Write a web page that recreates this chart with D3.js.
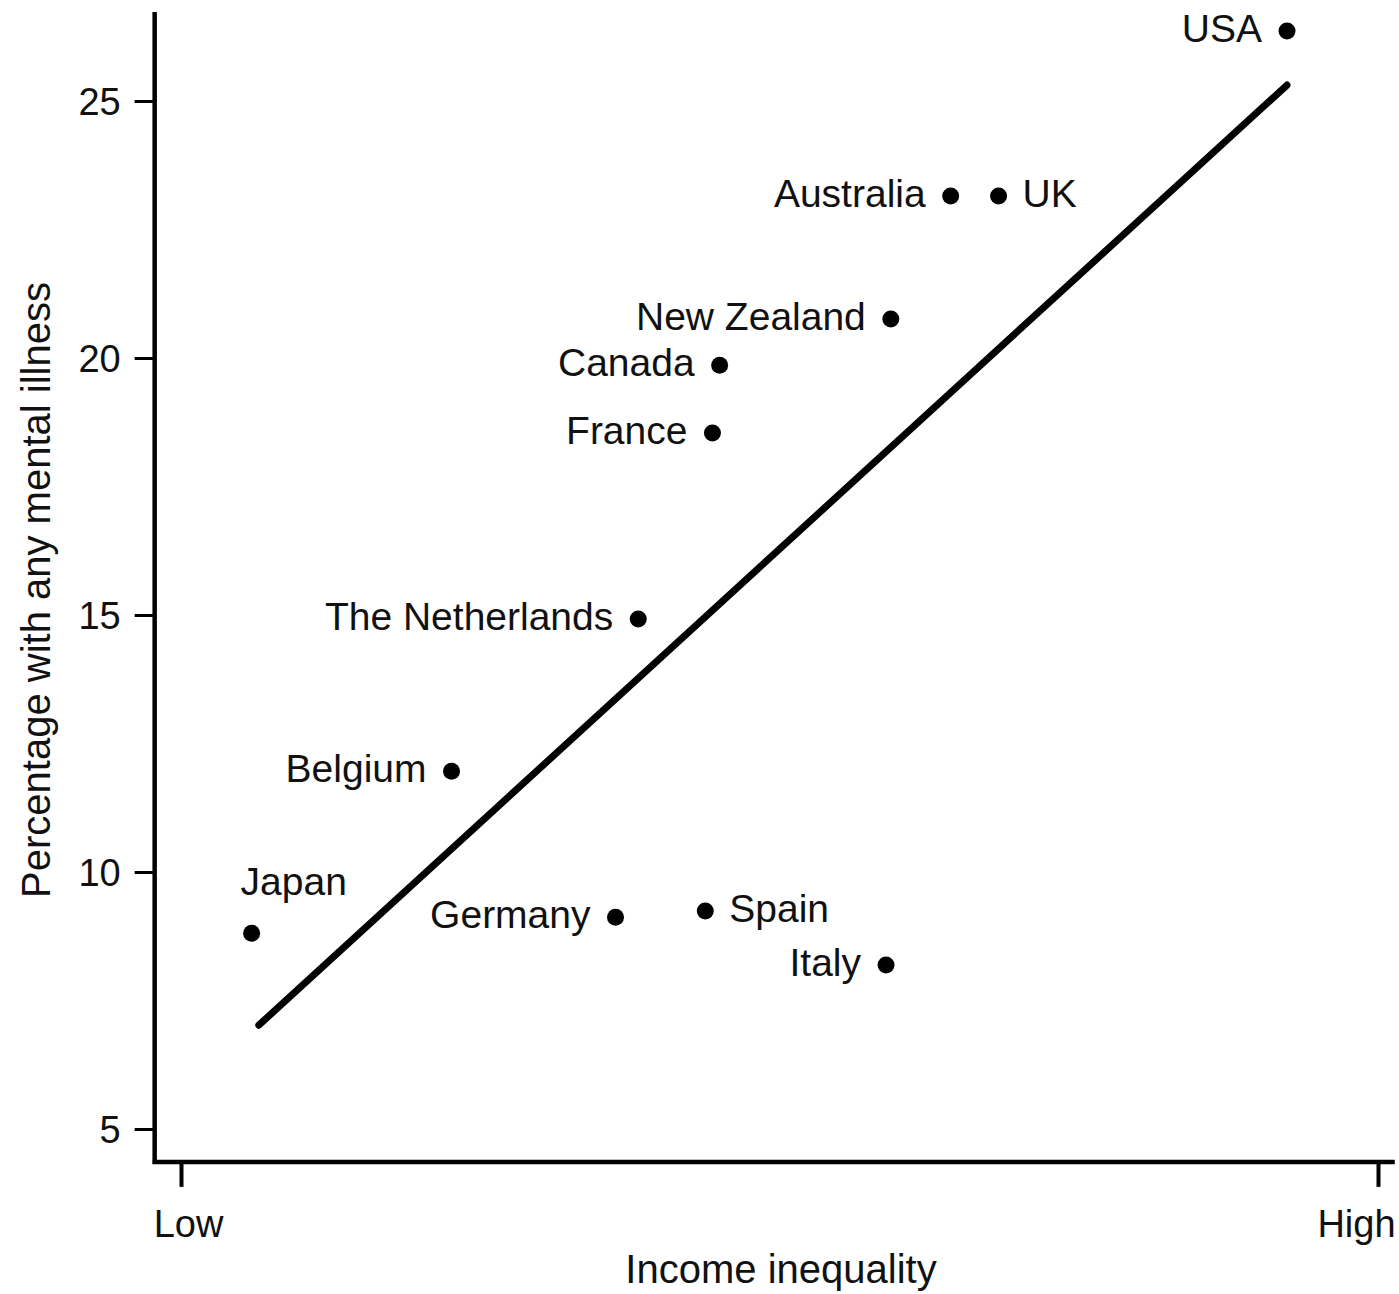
<!DOCTYPE html>
<meta charset="utf-8">
<script src="https://d3js.org/d3.v7.min.js"></script>
<style>
  body { margin: 0; background: #fff; }
  text { font-family: "Liberation Sans", Arial, sans-serif; fill: #111; }
</style>
<div id="chart"></div>
<script>
// countries, income inequality (0 = Low, 1 = High) and % with any mental illness
var countries = ["USA", "Australia", "UK", "New Zealand", "Canada", "France",
                 "The Netherlands", "Belgium", "Japan", "Germany", "Spain", "Italy"];
var inequality = [0.924, 0.643, 0.683, 0.593, 0.450, 0.444,
                  0.382, 0.226, 0.059, 0.363, 0.438, 0.589];
var illness = [26.36, 23.15, 23.15, 20.76, 19.86, 18.54,
               14.92, 11.96, 8.81, 9.12, 9.24, 8.19];
// where each label sits relative to its dot
var labelSide = ["left", "left", "right", "left", "left", "left",
                 "left", "left", "above", "left", "right", "left"];

// fitted line end points
var fitX = [0.065, 0.924];
var fitY = [7.02, 25.31];

var yTicks = [5, 10, 15, 20, 25];
var xTicks = [0, 1];
var xTickLabels = ["Low", "High"];

var width = 1399, height = 1294;

var svg = d3.select("#chart").append("svg")
  .attr("width", width)
  .attr("height", height);

var x = d3.scaleLinear().domain([0, 1]).range([181, 1378]);
var y = d3.scaleLinear().domain([5, 25]).range([1129, 101]);

var xAxisY = y(4.36);
var yAxisX = x(-0.022);

// y axis
var gy = svg.append("g")
  .attr("transform", "translate(" + yAxisX + ",0)")
  .call(d3.axisLeft(y).tickValues(yTicks).tickSize(20).tickPadding(14));
gy.select(".domain").remove();
gy.selectAll(".tick line").attr("stroke", "#000").attr("stroke-width", 3);
gy.selectAll(".tick text")
  .style("font-size", "38px")
  .attr("fill", "#111")
  .attr("dy", "0.36em");

// x axis
var gx = svg.append("g")
  .attr("transform", "translate(0," + xAxisY + ")")
  .call(d3.axisBottom(x).tickValues(xTicks).tickSize(25)
        .tickFormat(function(d, i) { return xTickLabels[i]; }));
gx.select(".domain").remove();
gx.selectAll(".tick line").attr("stroke", "#000").attr("stroke-width", 4);
gx.selectAll(".tick text")
  .style("font-size", "38px")
  .attr("fill", "#111")
  .attr("y", 75)
  .attr("dy", 0)
  .attr("dx", function(d, i) { return i == 0 ? 7 : -22; });

// axis lines (longer than the tick range)
svg.append("line")
  .attr("x1", yAxisX).attr("x2", yAxisX)
  .attr("y1", y(26.73)).attr("y2", xAxisY + 2)
  .attr("stroke", "#000").attr("stroke-width", 4.5);
svg.append("line")
  .attr("x1", yAxisX - 2).attr("x2", x(1.014))
  .attr("y1", xAxisY).attr("y2", xAxisY)
  .attr("stroke", "#000").attr("stroke-width", 4.5);

// axis titles
svg.append("text")
  .attr("x", 781).attr("y", 1283)
  .attr("text-anchor", "middle")
  .style("font-size", "40px")
  .text("Income inequality");

svg.append("text")
  .attr("transform", "translate(50,590) rotate(-90)")
  .attr("text-anchor", "middle")
  .style("font-size", "40px")
  .text("Percentage with any mental illness");

// fitted line
svg.append("line")
  .attr("x1", x(fitX[0])).attr("y1", y(fitY[0]))
  .attr("x2", x(fitX[1])).attr("y2", y(fitY[1]))
  .attr("stroke", "#000")
  .attr("stroke-width", 7)
  .attr("stroke-linecap", "round");

// points
var pts = countries.map(function(c, i) {
  return {name: c, x: inequality[i], y: illness[i], side: labelSide[i]};
});

svg.selectAll("circle.pt").data(pts).enter().append("circle")
  .attr("class", "pt")
  .attr("cx", function(d) { return x(d.x); })
  .attr("cy", function(d) { return y(d.y); })
  .attr("r", 8.5)
  .attr("fill", "#000");

svg.selectAll("text.lab").data(pts).enter().append("text")
  .attr("class", "lab")
  .style("font-size", "39px")
  .attr("x", function(d) {
    if (d.side == "left") return x(d.x) - 25;
    if (d.side == "right") return x(d.x) + 24;
    return x(d.x) - 11;
  })
  .attr("y", function(d) {
    if (d.side == "above") return y(d.y) - 38;
    return y(d.y) + 11;
  })
  .attr("text-anchor", function(d) { return d.side == "left" ? "end" : "start"; })
  .text(function(d) { return d.name; });
</script>
